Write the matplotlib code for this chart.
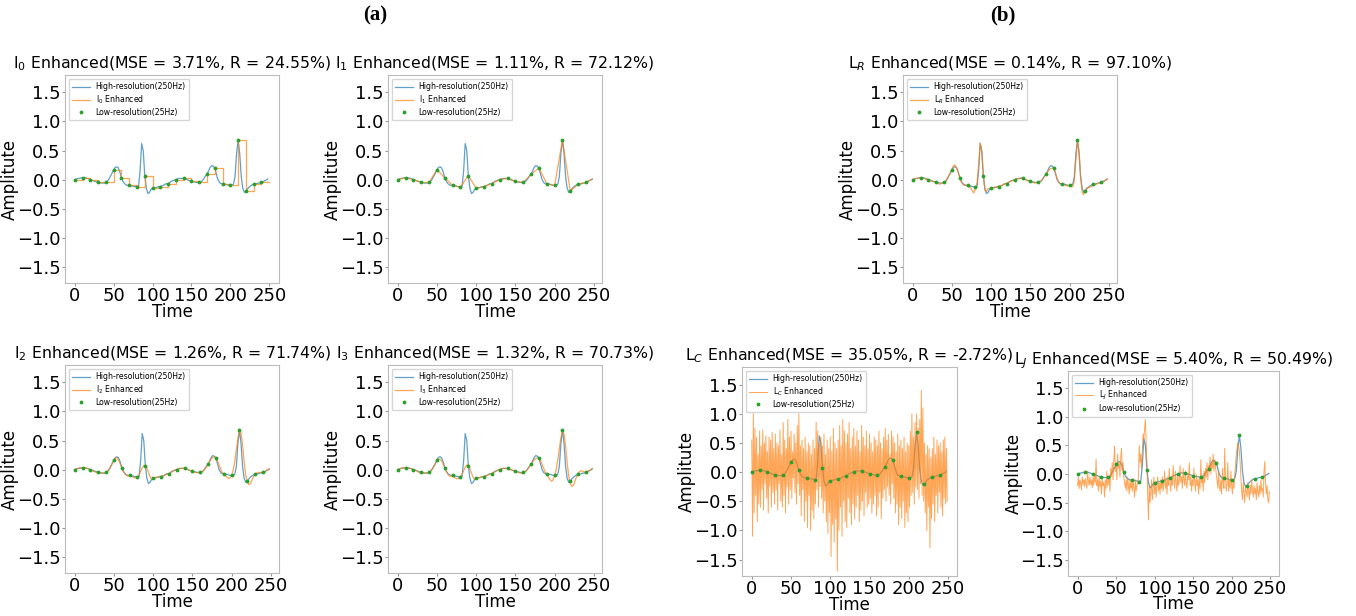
import numpy as np
import matplotlib
matplotlib.use('Agg')
import matplotlib.pyplot as plt

# temps (échantillons)
t_high = np.arange(0, 250, 2)          # signal 250Hz, un point sur deux
t_low = np.arange(0, 250, 10)          # signal 25Hz
t_full = np.arange(0, 250)             # sorties bruitées L_C, L_J

# signal haute résolution
high = [
    0.00, 0.01, 0.02, 0.02, 0.03, 0.03, 0.03, 0.03, 0.02, 0.01,
    0.00, -0.01, -0.02, -0.03, -0.04, -0.05, -0.05, -0.06, -0.06, -0.06,
    -0.05, -0.03, 0.01, 0.06, 0.11, 0.17, 0.21, 0.22, 0.20, 0.13,
    0.03, -0.03, -0.07, -0.09, -0.10, -0.10, -0.11, -0.11, -0.12, -0.12,
    -0.13, -0.12, 0.15, 0.62, 0.50, 0.07, -0.15, -0.24, -0.22, -0.17,
    -0.15, -0.14, -0.14, -0.13, -0.12, -0.12, -0.11, -0.10, -0.08, -0.07,
    -0.07, -0.05, -0.03, -0.02, -0.01, 0.00, 0.01, 0.02, 0.02, 0.02,
    0.02, 0.01, 0.00, -0.01, -0.02, -0.03, -0.04, -0.04, -0.05, -0.05,
    -0.05, -0.04, -0.02, 0.02, 0.06, 0.09, 0.15, 0.21, 0.24, 0.23,
    0.20, 0.10, 0.00, -0.05, -0.07, -0.07, -0.08, -0.08, -0.09, -0.10,
    -0.10, -0.10, -0.08, 0.05, 0.45, 0.68, 0.45, 0.05, -0.15, -0.22,
    -0.20, -0.16, -0.13, -0.11, -0.09, -0.08, -0.08, -0.07, -0.06, -0.06,
    -0.05, -0.04, -0.02, -0.01, 0.01,
]

# signal basse résolution
low = [0.00, 0.03, 0.00, -0.05, -0.05, 0.17, 0.03, -0.10, -0.13, 0.07,
       -0.15, -0.12, -0.07, 0.00, 0.02, -0.03, -0.05, 0.09, 0.20, -0.07,
       -0.10, 0.68, -0.20, -0.08, -0.05]

# I2 Enhanced
i2 = [
    0.00, 0.01, 0.02, 0.03, 0.03, 0.03, 0.03, 0.03, 0.02, 0.01,
    0.00, -0.01, -0.03, -0.04, -0.05, -0.05, -0.06, -0.06, -0.06, -0.06,
    -0.05, -0.03, 0.00, 0.05, 0.11, 0.17, 0.20, 0.20, 0.16, 0.10,
    0.03, -0.03, -0.07, -0.10, -0.11, -0.10, -0.11, -0.13, -0.14, -0.14,
    -0.13, -0.09, -0.03, 0.03, 0.07, 0.07, 0.03, -0.05, -0.12, -0.16,
    -0.15, -0.14, -0.13, -0.13, -0.12, -0.12, -0.11, -0.10, -0.09, -0.08,
    -0.07, -0.05, -0.04, -0.02, -0.01, 0.00, 0.01, 0.02, 0.02, 0.02,
    0.02, 0.01, 0.00, -0.01, -0.02, -0.03, -0.04, -0.05, -0.05, -0.05,
    -0.05, -0.04, -0.02, 0.01, 0.05, 0.09, 0.14, 0.18, 0.21, 0.22,
    0.20, 0.15, 0.08, 0.01, -0.05, -0.07, -0.10, -0.13, -0.15, -0.14,
    -0.10, -0.01, 0.14, 0.34, 0.54, 0.68, 0.64, 0.42, 0.13, -0.10,
    -0.20, -0.26, -0.24, -0.18, -0.12, -0.08, -0.06, -0.05, -0.05, -0.05,
    -0.05, -0.04, -0.02, 0.00, 0.01,
]

# I3 Enhanced
i3 = [
    0.00, 0.01, 0.02, 0.03, 0.03, 0.03, 0.03, 0.02, 0.02, 0.01,
    0.00, -0.01, -0.02, -0.04, -0.05, -0.05, -0.06, -0.06, -0.06, -0.05,
    -0.04, -0.02, 0.01, 0.05, 0.10, 0.15, 0.18, 0.18, 0.15, 0.09,
    0.03, -0.03, -0.08, -0.11, -0.12, -0.12, -0.13, -0.15, -0.16, -0.15,
    -0.13, -0.08, -0.02, 0.04, 0.08, 0.07, 0.02, -0.06, -0.13, -0.17,
    -0.17, -0.15, -0.14, -0.13, -0.12, -0.12, -0.11, -0.10, -0.09, -0.08,
    -0.07, -0.05, -0.04, -0.02, -0.01, 0.00, 0.01, 0.02, 0.02, 0.02,
    0.02, 0.01, 0.00, -0.01, -0.02, -0.03, -0.04, -0.05, -0.06, -0.06,
    -0.05, -0.04, -0.02, 0.01, 0.05, 0.09, 0.13, 0.17, 0.19, 0.20,
    0.20, 0.16, 0.09, 0.02, -0.04, -0.08, -0.13, -0.17, -0.20, -0.18,
    -0.10, 0.00, 0.16, 0.36, 0.55, 0.66, 0.62, 0.40, 0.12, -0.12,
    -0.24, -0.29, -0.27, -0.20, -0.12, -0.06, -0.03, -0.02, -0.03, -0.04,
    -0.05, -0.04, -0.02, 0.00, 0.02,
]

# L_R Enhanced
lr = [
    0.00, 0.01, 0.02, 0.02, 0.03, 0.03, 0.03, 0.02, 0.01, 0.01,
    0.00, -0.02, -0.03, -0.03, -0.04, -0.05, -0.06, -0.08, -0.07, -0.06,
    -0.05, -0.03, 0.02, 0.07, 0.12, 0.18, 0.24, 0.25, 0.20, 0.12,
    0.03, -0.04, -0.08, -0.10, -0.10, -0.11, -0.13, -0.14, -0.20, -0.23,
    -0.14, -0.06, 0.25, 0.63, 0.48, 0.07, -0.19, -0.20, -0.16, -0.15,
    -0.16, -0.14, -0.13, -0.14, -0.12, -0.11, -0.11, -0.10, -0.08, -0.07,
    -0.06, -0.05, -0.04, -0.02, -0.02, 0.00, 0.01, 0.01, 0.02, 0.03,
    0.02, 0.01, 0.00, -0.02, -0.02, -0.03, -0.05, -0.05, -0.06, -0.05,
    -0.05, -0.03, -0.02, 0.01, 0.06, 0.09, 0.13, 0.17, 0.19, 0.20,
    0.18, 0.12, 0.02, -0.04, -0.07, -0.08, -0.08, -0.10, -0.10, -0.11,
    -0.10, -0.12, -0.12, -0.02, 0.35, 0.66, 0.50, 0.05, -0.22, -0.26,
    -0.18, -0.14, -0.14, -0.13, -0.12, -0.10, -0.09, -0.08, -0.07, -0.06,
    -0.05, -0.04, -0.03, -0.01, 0.01,
]

# L_C Enhanced (250 points)
lc = [
    0.55, -1.10, 1.00, -0.70, 0.75, -0.40, 0.60, -0.85, 0.30, -0.55,
    0.70, -0.60, 0.45, -0.30, 0.72, -0.65, 0.50, -0.20, 0.62, -0.45,
    0.35, -0.70, 0.60, -0.25, 0.55, -0.60, 0.68, -0.35, 0.40, -0.55,
    0.65, -0.30, 0.50, -0.65, 0.45, -0.20, 0.72, -0.50, 0.30, -0.60,
    0.85, -0.40, 0.55, -0.70, 0.40, -0.25, 0.90, -0.55, 0.60, -0.30,
    0.70, -0.45, 0.35, -0.10, 0.65, -0.35, 0.50, -0.55, 0.80, -0.20,
    1.00, -0.40, 0.45, -0.75, 0.55, -0.30, 0.40, -0.85, 0.60, -0.50,
    0.35, -0.95, 0.50, -0.40, 0.45, -1.00, 0.30, -0.65, 0.55, -0.80,
    0.40, -0.55, 0.85, -0.30, 0.70, -0.60, 0.50, -0.25, 0.60, -0.45,
    0.45, -0.70, 0.65, -0.50, 0.30, -0.85, 0.55, -1.05, 0.40, -0.70,
    0.60, -1.45, 0.35, -0.90, 0.75, -1.20, 0.50, -0.80, 0.40, -1.70,
    0.55, -1.00, 0.80, -0.60, 0.45, -1.10, 0.90, -0.50, 0.70, -0.85,
    0.50, -0.95, 0.65, -0.45, 0.85, -0.70, 0.40, -0.90, 0.60, -0.55,
    0.75, -0.80, 0.45, -0.60, 0.70, -0.40, 0.55, -0.85, 0.35, -0.65,
    0.80, -0.50, 0.60, -0.75, 0.45, -0.35, 0.70, -0.60, 0.40, -0.55,
    0.65, -0.45, 0.50, -0.70, 0.35, -0.55, 0.60, -0.40, 0.55, -0.75,
    0.45, -0.60, 0.70, -0.35, 0.50, -0.80, 0.40, -0.45, 0.60, -0.30,
    0.75, -0.50, 0.55, -0.25, 0.65, -0.40, 0.30, -0.55, 0.70, -0.20,
    0.60, -0.45, 0.50, -0.70, 0.35, -0.55, 0.65, -0.90, 0.45, -0.60,
    0.55, -0.80, 0.40, -0.50, 0.60, -0.95, 0.35, -0.70, 0.50, -0.85,
    0.45, -0.60, 0.70, -0.40, 1.00, -0.35, 0.60, -0.55, 0.85, -0.25,
    1.00, -0.30, 0.75, -0.45, 0.90, -0.20, 1.40, -0.40, 1.10, -0.50,
    0.50, -0.70, 0.30, -1.00, 0.45, -0.60, 0.40, -1.30, 0.25, -0.80,
    0.40, -0.55, 0.60, -0.85, 0.30, -0.40, 0.55, -0.70, 0.45, -0.35,
    0.50, -0.60, 0.35, -0.75, 0.55, -0.45, 0.60, -0.55, 0.40, -0.50,
]

# L_J Enhanced (250 points)
lj = [
    -0.20, -0.05, -0.25, -0.10, -0.15, -0.28, -0.05, -0.18, -0.10, -0.22,
    -0.08, -0.15, -0.25, 0.05, -0.12, -0.20, -0.05, -0.18, -0.10, -0.24,
    -0.06, -0.20, 0.00, -0.15, 0.26, -0.20, -0.10, -0.30, -0.05, -0.22,
    -0.12, -0.35, -0.08, -0.20, -0.15, -0.40, -0.10, -0.25, 0.05, -0.20,
    -0.15, -0.05, -0.30, 0.10, -0.05, 0.20, -0.10, 0.25, 0.49, 0.05,
    0.15, -0.10, 0.35, 0.10, 0.20, -0.05, 0.30, 0.45, 0.05, 0.20,
    -0.05, -0.15, -0.25, -0.10, -0.30, -0.05, -0.20, -0.35, -0.10, -0.25,
    -0.15, -0.30, -0.08, -0.25, -0.40, -0.10, -0.30, -0.20, -0.15, -0.05,
    0.50, 0.20, 0.35, 0.10, 0.40, 0.70, 0.60, 0.80, 0.95, 0.55,
    0.20, -0.35, -0.80, -0.20, -0.50, -0.30, -0.10, -0.45, -0.25, -0.05,
    -0.35, -0.15, -0.40, -0.20, -0.05, -0.30, -0.15, -0.35, -0.10, -0.25,
    -0.05, -0.30, -0.15, 0.05, -0.25, -0.10, -0.35, -0.05, -0.20, 0.10,
    -0.15, -0.30, -0.05, -0.20, 0.15, -0.10, -0.25, 0.05, -0.15, -0.30,
    0.00, -0.20, -0.10, 0.15, -0.15, -0.05, -0.25, 0.10, -0.10, -0.20,
    0.05, -0.15, -0.25, 0.00, -0.10, 0.20, -0.20, -0.05, -0.30, -0.10,
    -0.20, 0.10, -0.15, -0.30, 0.00, -0.20, -0.10, -0.35, -0.05, -0.25,
    0.25, -0.15, -0.05, -0.30, 0.05, -0.15, 0.10, -0.05, 0.20, -0.10,
    0.15, 0.05, 0.30, 0.00, 0.20, 0.10, 0.35, 0.05, 0.25, 0.15,
    0.00, -0.10, -0.25, 0.05, -0.20, -0.30, -0.10, -0.35, 0.10, -0.15,
    -0.25, 0.45, -0.05, -0.30, -0.15, 0.20, -0.30, -0.10, -0.25, 0.05,
    -0.20, -0.35, -0.10, -0.25, 0.00, 0.15, 0.35, 0.45, 0.55, 0.50,
    0.40, 0.20, -0.05, -0.30, -0.45, -0.15, -0.35, -0.50, -0.20, -0.30,
    -0.40, -0.15, -0.30, -0.45, -0.20, -0.35, -0.10, -0.30, -0.40, -0.20,
    -0.35, -0.25, -0.45, -0.15, -0.30, -0.40, -0.20, -0.35, -0.10, -0.30,
    -0.25, -0.40, 0.05, 0.22, -0.15, -0.35, -0.20, -0.45, -0.50, -0.30,
]

W, H = 1356, 616
fig = plt.figure(figsize=(W / 100, H / 100), dpi=100)


def make_ax(x0, y0, x1, y1):
    # boîte en pixels -> fraction de figure
    return fig.add_axes([x0 / W, 1 - y1 / H, (x1 - x0) / W, (y1 - y0) / H])


def panel(ax, name, mse, r, kind, data=None):
    ax.plot(t_high, high, color='C0', lw=0.9, alpha=0.7, label='High-resolution(250Hz)')
    lab = name + ' Enhanced'
    if kind == 'step':
        ax.step(list(t_low) + [250], low + [low[-1]], where='post', color='C1',
                lw=0.9, alpha=0.7, label=lab)
    elif kind == 'linear':
        ax.plot(list(t_low) + [t_high[-1]], low + [high[-1]], color='C1', lw=0.9,
                alpha=0.7, label=lab)
    elif kind == 'dense':
        ax.plot(t_full, data, color='C1', lw=0.7, alpha=0.7, label=lab)
    else:
        ax.plot(t_high, data, color='C1', lw=0.9, alpha=0.7, label=lab)
    ax.plot(t_low, low, '.', color='C2', ms=3.5, label='Low-resolution(25Hz)')
    ax.set_ylim(-1.78, 1.8)
    ax.set_xticks([0, 50, 100, 150, 200, 250])
    ax.set_yticks([-1.5, -1.0, -0.5, 0.0, 0.5, 1.0, 1.5])
    ax.tick_params(labelsize=13, color='#999999', length=2.5, pad=0.5)
    for s in ax.spines.values():
        s.set_color('#bbbbbb')
    ax.set_title(f'{name} Enhanced(MSE = {mse}%, R = {r}%)', fontsize=11.3, pad=5)
    ax.set_xlabel('Time', fontsize=12)
    ax.set_ylabel('Amplitute', fontsize=12)
    ax.yaxis.set_label_coords(-0.215, 0.5)
    ax.xaxis.set_label_coords(0.5, -0.095)
    ax.xaxis.label.set_va('top')
    ax.legend(loc='upper left', fontsize=5.6, framealpha=0.8, borderpad=0.45,
              labelspacing=0.25, handlelength=2.2)


panel(make_ax(65, 75, 279, 283), 'I$_0$', '3.71', '24.55', 'step')
panel(make_ax(388, 75, 602, 283), 'I$_1$', '1.11', '72.12', 'linear')
panel(make_ax(903, 75, 1117, 283), 'L$_R$', '0.14', '97.10', 'smooth', lr)
panel(make_ax(65, 365, 279, 573), 'I$_2$', '1.26', '71.74', 'smooth', i2)
panel(make_ax(388, 365, 602, 573), 'I$_3$', '1.32', '70.73', 'smooth', i3)
panel(make_ax(742, 367, 957, 576), 'L$_C$', '35.05', '-2.72', 'dense', lc)
panel(make_ax(1068, 371, 1279, 576), 'L$_J$', '5.40', '50.49', 'dense', lj)

fig.text(375 / W, 1 - 15 / H, '(a)', ha='center', va='center',
         family='Liberation Serif', weight='bold', fontsize=15)
fig.text(1003 / W, 1 - 15 / H, '(b)', ha='center', va='center',
         family='Liberation Serif', weight='bold', fontsize=15)

fig.savefig('out.png', dpi=100)
